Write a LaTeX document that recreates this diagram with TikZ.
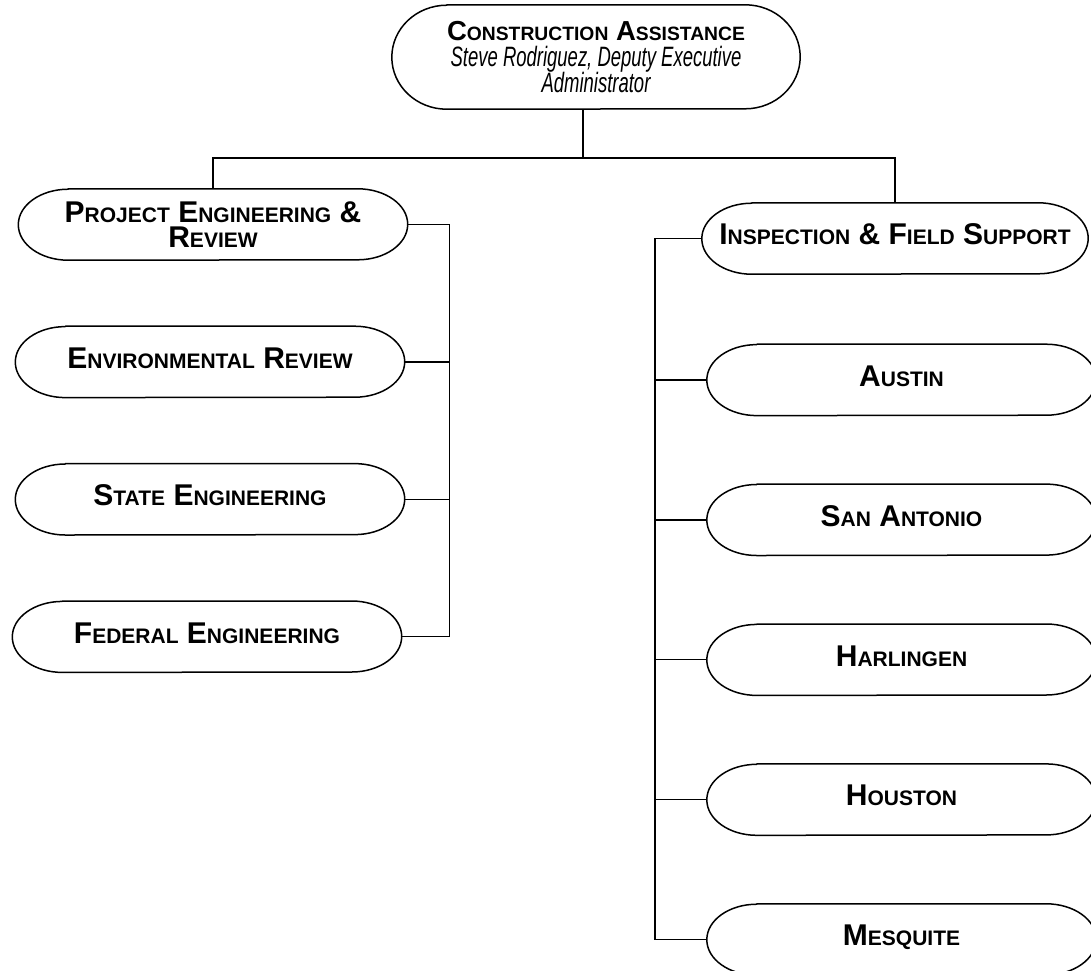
\documentclass[tikz,border=0pt]{standalone}
\usepackage{fontspec}
\setmainfont{Liberation Sans}
\newfontfamily\narrowfont[FakeStretch=0.66]{Liberation Sans}
\usetikzlibrary{positioning}
\tikzset{
  unit/.style = {
    minimum width=389pt,
    minimum height=71pt,
    inner sep=0pt,
    text depth=8pt,
    align=center,
    font=\bfseries\fontsize{30}{24}\selectfont\def\lowsize{21}
  },
  head/.style = {
    unit,
    minimum width=408pt,
    minimum height=104pt,
    text depth=,
    font=\bfseries\fontsize{27.5}{25}\selectfont\def\lowsize{19.3}
  },
  outline/.style = {
    line width=1.5pt,
    line join=round
  },
  link/.style = {
    line width=1.5pt
  },
}
\newcommand\low[1]{{\fontsize{\lowsize}{\lowsize}\selectfont #1}}
\newcommand\subtext[1]{{\narrowfont\mdseries\itshape\fontsize{28}{25}\selectfont #1}}

\begin{document}
\begin{tikzpicture}[x=1pt, y=-1pt, node distance=66pt]
  \useasboundingbox (0,0) rectangle (1091,970);
  \node[head] (ca) at (596,57) {C\low{ONSTRUCTION} A\low{SSISTANCE}\\[1pt]
    \subtext{Steve Rodriguez, Deputy Executive}\\[-1pt]
    \subtext{Administrator}};
  % left branch
  \node[unit, text depth=] (per) at (213,224.5) {P\low{ROJECT} E\low{NGINEERING} \&\\[1pt]R\low{EVIEW}};
  \node[unit, below=of per, xshift=-3pt] (env) {E\low{NVIRONMENTAL} R\low{EVIEW}};
  \node[unit, below=of env] (ste) {S\low{TATE} E\low{NGINEERING}};
  \node[unit, below=of ste, xshift=-3pt] (fed) {F\low{EDERAL} E\low{NGINEERING}};
  % right branch
  \node[unit, minimum width=386pt] (ifs) at (895,238.5) {I\low{NSPECTION} \& F\low{IELD} S\low{UPPORT}};
  \node[unit, below=70pt of ifs, xshift=6.5pt] (aus) {A\low{USTIN}};
  \node[unit, below=68.5pt of aus] (san) {S\low{AN} A\low{NTONIO}};
  \node[unit, below=68.5pt of san] (har) {H\low{ARLINGEN}};
  \node[unit, below=68.5pt of har] (hou) {H\low{OUSTON}};
  \node[unit, below=68.5pt of hou] (mes) {M\low{ESQUITE}};
  % outlines
  \foreach \n/\r/\e in {ca/52/55, per/35.5/50, env/35.5/50, ste/35.5/50, fed/35.5/50,
      ifs/35.5/50, aus/35.5/50, san/35.5/50, har/35.5/50, hou/35.5/50, mes/35.5/50}
    \draw[outline] ([xshift=\e pt]\n.north west) -- ([xshift=-\e pt]\n.north east)
      arc[start angle=90, end angle=-90, x radius=\e pt, y radius=\r pt]
      -- ([xshift=\e pt]\n.south west)
      arc[start angle=270, end angle=90, x radius=\e pt, y radius=\r pt] -- cycle;
  % connectors
  \coordinate[above=31pt of per.north] (bus);
  \draw[link] ([xshift=-13pt]ca.south) -- ([xshift=-13pt]ca.south |- bus);
  \draw[link] (per.north) -- (bus) -| (ifs.north);
  \coordinate[right=42pt of per.east] (lbus);
  \draw[link] (per.east) -- (lbus) |- (fed.east);
  \foreach \n in {env, ste}
    \draw[link] (\n.east) -- (\n.east -| lbus);
  \coordinate[left=47pt of ifs.west] (rbus);
  \draw[link] (ifs.west) -- (rbus) |- (mes.west);
  \foreach \n in {aus, san, har, hou}
    \draw[link] (\n.west) -- (\n.west -| rbus);
\end{tikzpicture}
\end{document}
